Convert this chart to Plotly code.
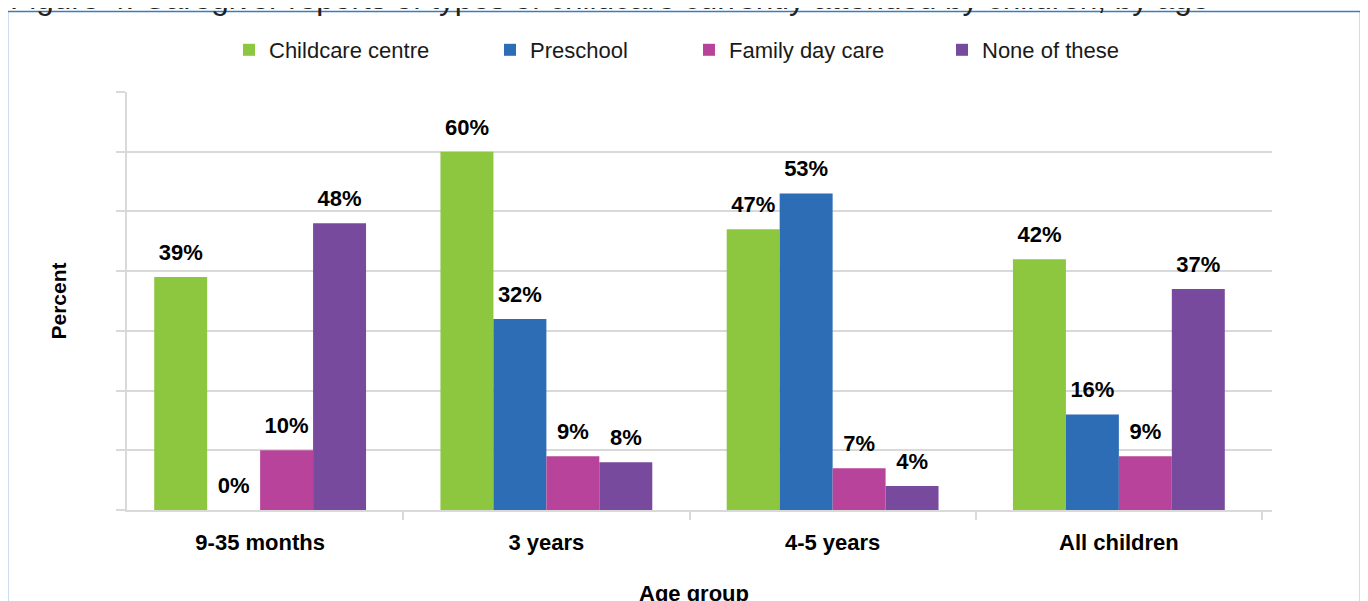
import plotly.graph_objects as go

categories = ["9-35 months", "3 years", "4-5 years", "All children"]
series_names = ["Childcare centre", "Preschool", "Family day care", "None of these"]
childcare_centre = [39, 60, 47, 42]
preschool = [0, 32, 53, 16]
family_day_care = [10, 9, 7, 9]
none_of_these = [48, 8, 4, 37]
values = [childcare_centre, preschool, family_day_care, none_of_these]
colors = ["#8DC63F", "#2D6DB5", "#B7449A", "#774A9E"]

title_text = "Figure 4: Caregiver reports of types of childcare currently attended by children, by age"
x_title = "Age group"
y_title = "Percent"

# the page body adds an 8px offset; the figure is sized to fill the window exactly
OFF = 8
W, H = 1368 - OFF, 601 - OFF
L = 127 - OFF
T = 92 - OFF
PR = 1272 - OFF
PB = 510 - OFF
R = W - PR
B = H - PB
PW = PR - L
PH = PB - T


def px_x(p):
    """screenshot pixel -> paper x"""
    return (p - OFF - L) / PW


def px_y(p):
    """screenshot pixel -> paper y"""
    return (PB - (p - OFF)) / PH


FONT = "Liberation Sans, Arial, sans-serif"

fig = go.Figure()
legend_ids = ["legend", "legend2", "legend3", "legend4"]
for name, vals, col, lg in zip(series_names, values, colors, legend_ids):
    fig.add_trace(go.Bar(
        x=categories, y=vals, name=name, marker=dict(color=col, line=dict(width=0)),
        offsetgroup=name, legend=lg, hoverinfo="x+y+name",
    ))
for name, vals in zip(series_names, values):
    fig.add_trace(go.Scatter(
        x=categories, y=vals, mode="markers+text", offsetgroup=name,
        text=[f"{v}%" for v in vals], textposition="top center",
        textfont=dict(family=FONT, size=22, color="#000000", weight="bold"),
        marker=dict(size=17, opacity=0), showlegend=False, hoverinfo="skip",
        cliponaxis=False,
    ))

legend_text_x = [266, 527, 726, 979]
legend_cfg = {}
for lg, tx in zip(legend_ids, legend_text_x):
    legend_cfg[lg] = dict(
        x=px_x(tx - 37), xanchor="left", y=px_y(50), yanchor="middle",
        orientation="h", bgcolor="rgba(0,0,0,0)",
        font=dict(family=FONT, size=22, color="#1a1a1a"),
    )

shift = 10 / (PW / 4)  # categories sit slightly left of the gridline frame

fig.update_layout(
    width=W, height=H,
    margin=dict(l=L, r=R, t=T, b=B, autoexpand=False),
    paper_bgcolor="white", plot_bgcolor="white",
    barmode="group", bargap=0.26, bargroupgap=0,
    scattermode="group", scattergap=0.26,
    font=dict(family=FONT, color="#000000"),
    **legend_cfg,
    xaxis=dict(
        type="category", range=[-0.5 + shift, 3.5 + shift],
        showline=True, linecolor="#d9d9d9", linewidth=2,
        ticks="outside", tickson="boundaries", ticklen=8, tickcolor="#d9d9d9", tickwidth=2,
        tickfont=dict(family=FONT, size=22, color="#000000", weight="bold"),
        ticklabelstandoff=12,
        showgrid=False, zeroline=False,
    ),
    yaxis=dict(
        range=[0, 70], dtick=10, showgrid=True, gridcolor="#d9d9d9", gridwidth=1.5,
        showline=True, linecolor="#d9d9d9", linewidth=2,
        ticks="outside", ticklen=9, tickcolor="#d9d9d9", tickwidth=2,
        showticklabels=False, zeroline=False,
        title=dict(text=y_title, font=dict(family=FONT, size=21, color="#000000", weight="bold"),
                   standoff=44),
    ),
    annotations=[
        dict(
            text=title_text, xref="paper", yref="paper", x=px_x(8), y=px_y(18),
            xanchor="left", yanchor="bottom", showarrow=False,
            font=dict(family=FONT, size=31.5, color="#222222"),
        ),
        dict(
            text=x_title, xref="paper", yref="paper", x=px_x(694), y=px_y(593),
            xanchor="center", yanchor="middle", showarrow=False,
            font=dict(family=FONT, size=22, color="#000000", weight="bold"),
        ),
    ],
    shapes=[dict(
        type="rect", xref="paper", yref="paper", layer="below",
        x0=px_x(7.5), x1=px_x(1360.5), y0=px_y(640), y1=px_y(11.5),
        line=dict(color="#3A7DBF", width=1.5), fillcolor="rgba(0,0,0,0)",
    )],
)

fig.write_html("out.html")
